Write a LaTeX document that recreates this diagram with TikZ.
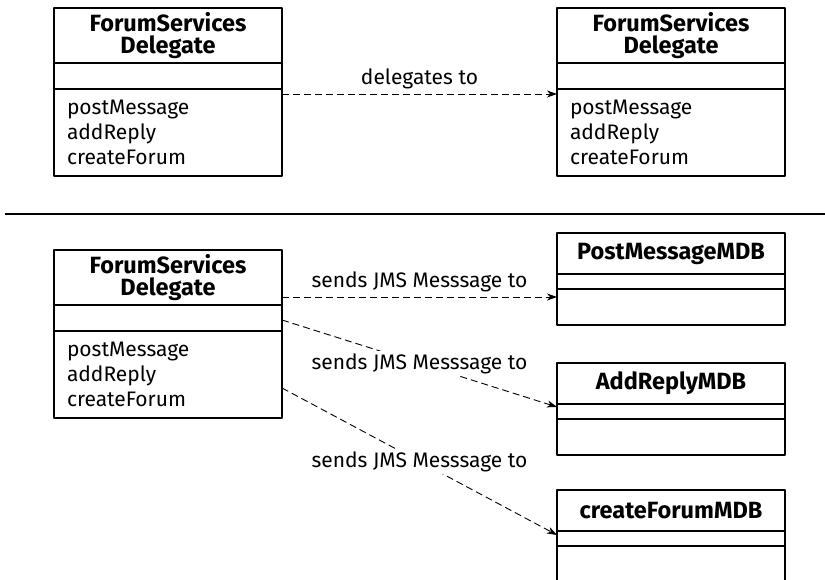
\documentclass[tikz,border=0pt]{standalone}
\usepackage{fontspec}
\setmainfont{Fira Sans}
\usetikzlibrary{arrows.meta}
\usetikzlibrary{positioning}

\begin{document}
\begin{tikzpicture}[x=1pt,y=-1pt,line join=round,>={Stealth[length=10pt,width=7pt,inset=3pt]},
    box/.style={draw,line width=1.2pt,minimum width=228pt,inner sep=0pt,outer sep=0pt},
    head/.style={box,minimum height=55pt,align=center,font=\fontsize{23.5}{21.5}\selectfont\bfseries},
    slot/.style={box,minimum height=26pt},
    ops/.style={box,minimum height=87pt,text width=202pt,align=left,font=\fontsize{21}{25}\selectfont},
    mdbhead/.style={box,minimum height=41pt,font=\fontsize{23.5}{21.5}\selectfont\bfseries},
    mdbslot/.style={box,minimum height=15pt},
    mdbops/.style={box,minimum height=36pt},
    msg/.style={->,dash pattern=on 7pt off 4pt,line width=0.9pt},
    lbl/.style={font=\fontsize{21}{22}\selectfont,inner sep=2pt}]
      \useasboundingbox (0,0) rectangle (825,580);
      % delegate calls the delegate
      \node[head,anchor=north west] (fsd) at (54,8) {ForumServices\\Delegate};
      \node[slot,below=0pt of fsd] (fsdattr) {};
      \node[ops,below=0pt of fsdattr] (fsdops) {postMessage\\addReply\\createForum};
      \node[head,anchor=north west] (fsdb) at (557,8) {ForumServices\\Delegate};
      \node[slot,below=0pt of fsdb] (fsdbattr) {};
      \node[ops,below=0pt of fsdbattr] (fsdbops) {postMessage\\addReply\\createForum};
      \draw[msg] ([yshift=-5pt]fsdops.north east) -- node[lbl,above=3pt] {delegates to} ([yshift=-5pt]fsdbops.north west);
      \draw[line width=1.2pt] (5,214) -- (825,214);
      % delegate sends messages
      \node[head,anchor=north west] (jfsd) at (54,250) {ForumServices\\Delegate};
      \node[slot,below=0pt of jfsd] (jfsdattr) {};
      \node[ops,below=0pt of jfsdattr] (jfsdops) {postMessage\\addReply\\createForum};
      \node[mdbhead,anchor=north west] (pm) at (557,233) {PostMessageMDB};
      \node[mdbslot,below=0pt of pm] (pmattr) {};
      \node[mdbops,below=0pt of pmattr] (pmops) {};
      \node[mdbhead,anchor=north west] (ar) at (557,363) {AddReplyMDB};
      \node[mdbslot,below=0pt of ar] (arattr) {};
      \node[mdbops,below=0pt of arattr] (arops) {};
      \node[mdbhead,anchor=north west] (cf) at (557,490) {createForumMDB};
      \node[mdbslot,below=0pt of cf] (cfattr) {};
      \node[mdbops,below=0pt of cfattr] (cfops) {};
      \draw[msg] ([yshift=8pt]jfsd.south east) -- node[lbl,above=3pt] {sends JMS Messsage to} ([yshift=-8pt]pmops.north west);
      \draw[msg] ([yshift=-15pt]jfsd.south east) -- node[lbl,fill=white] {sends JMS Messsage to} ([yshift=-3pt]ar.south west);
      \draw[msg] ([yshift=-57pt]jfsdops.north east) -- node[lbl,fill=white] {sends JMS Messsage to} ([yshift=-4pt]cf.south west);
\end{tikzpicture}
\end{document}
